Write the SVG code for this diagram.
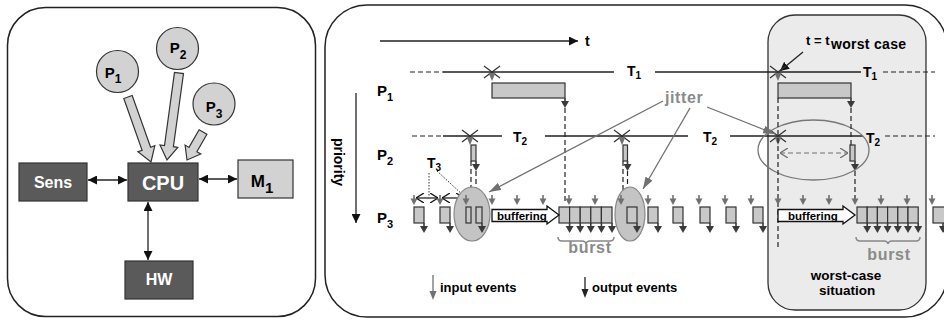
<svg xmlns="http://www.w3.org/2000/svg" xmlns:xlink="http://www.w3.org/1999/xlink" width="944" height="320" viewBox="0 0 944 320">
<style>
text{font-family:"Liberation Sans",Arial,sans-serif;font-weight:bold}
.panel{fill:#fff;stroke:#222;stroke-width:1.5}
.dark{fill:#5a5a5a;stroke:#333;stroke-width:1.2}
.wt{fill:#fff}
.light{fill:#d2d2d2;stroke:#333;stroke-width:1.2}
.bar{fill:#c8c8c8;stroke:#333;stroke-width:1.2}
.ln{stroke:#222;stroke-width:1.3;fill:none}
.dash{stroke:#222;stroke-width:1.2;stroke-dasharray:5,3;fill:none}
.gl{stroke:#707070;stroke-width:1.3;fill:none}
.ell{fill:#c4c4c4;stroke:#888;stroke-width:1.2}
.gt{fill:#8a8a8a}
</style>
<defs>
<marker id="bh" viewBox="0 0 10 10" refX="10" refY="5" markerWidth="9" markerHeight="9" markerUnits="userSpaceOnUse" orient="auto-start-reverse"><path d="M0,0L10,5L0,10z" fill="#111"/></marker>
<marker id="gh" viewBox="0 0 12 8" refX="12" refY="4" markerWidth="12" markerHeight="8" markerUnits="userSpaceOnUse" orient="auto"><path d="M0,0L12,4L0,8z" fill="#707070"/></marker>
<marker id="ob" viewBox="0 0 8 10" refX="8" refY="5" markerWidth="8" markerHeight="10" markerUnits="userSpaceOnUse" orient="auto-start-reverse"><path d="M0,0L8,5L0,10" fill="none" stroke="#111" stroke-width="1.3"/></marker>
<marker id="og" viewBox="0 0 8 10" refX="8" refY="5" markerWidth="8" markerHeight="10" markerUnits="userSpaceOnUse" orient="auto-start-reverse"><path d="M0,0L8,5L0,10" fill="none" stroke="#707070" stroke-width="1.3"/></marker>
<g id="ia"><path d="M0,0V5" stroke="#707070" stroke-width="1.6"/><path d="M-3.5,3.5H3.5L0,10Z" fill="#707070"/></g>
<g id="oa"><path d="M0,0V4" stroke="#3a3a3a" stroke-width="1.6"/><path d="M-4,3H4L0,10Z" fill="#3a3a3a"/></g>
<g id="xm"><path d="M-8,-6L8,6M-8,6L8,-6" stroke="#333" stroke-width="1.2"/><path d="M-3.5,1H3.5L0,9Z" fill="#707070"/></g>
</defs>

<!-- LEFT PANEL -->
<g id="left-panel">
<rect class="panel" x="7.5" y="7.5" width="308" height="309" rx="38"/>
</g>
<g id="P1"><circle class="light" cx="117.5" cy="71.5" r="21"/><text x="113" y="78" font-size="15" text-anchor="middle">P<tspan font-size="12" dy="5">1</tspan></text></g>
<g id="P2"><circle class="light" cx="177.5" cy="48.5" r="21"/><text x="178" y="53" font-size="15" text-anchor="middle">P<tspan font-size="12" dy="6">2</tspan></text></g>
<g id="P3"><circle class="light" cx="214" cy="104" r="21"/><text x="214" y="112" font-size="15" text-anchor="middle">P<tspan font-size="12" dy="6">3</tspan></text></g>
<g id="Sens"><rect class="dark" x="19" y="163" width="68" height="38"/><text class="wt" x="53" y="188" font-size="16" text-anchor="middle">Sens</text></g>
<g id="CPU"><rect class="dark" x="128" y="163" width="70" height="38"/><text class="wt" x="163" y="190" font-size="20" text-anchor="middle">CPU</text></g>
<g id="M1"><rect class="light" x="238" y="160" width="55" height="38"/><text x="262" y="187" font-size="17" text-anchor="middle">M<tspan font-size="15" dy="6">1</tspan></text></g>
<g id="HW"><rect class="dark" x="125" y="261" width="68" height="38"/><text class="wt" x="159" y="285" font-size="16" text-anchor="middle">HW</text></g>
<g id="left-connectors">
<polygon class="light" points="123.8,98.5 142.1,150.3 137.9,151.8 151,162 154.8,145.8 150.6,147.3 132.2,95.5"/>
<polygon class="light" points="174.5,72.4 164.5,145.5 160,144.9 167,160 177.8,147.4 173.4,146.7 183.5,73.6"/>
<polygon class="light" points="199.1,129.8 189,147.4 185.1,145.1 187,160 200.8,154 196.9,151.8 206.9,134.2"/>
<path class="ln" d="M88,180H127" marker-start="url(#bh)" marker-end="url(#bh)"/>
<path class="ln" d="M199,179H237" marker-start="url(#bh)" marker-end="url(#bh)"/>
<path class="ln" d="M148,202V260" marker-start="url(#bh)" marker-end="url(#bh)"/>
</g>

<!-- RIGHT PANEL -->
<g id="right-panel">
<rect class="panel" x="325" y="5" width="622" height="312" rx="42"/>
<rect x="768" y="15" width="158" height="295" rx="27" fill="#ebebeb" stroke="#333" stroke-width="1.3"/>
<text x="846" y="280" font-size="13.5" text-anchor="middle">worst-case</text>
<text x="847" y="295" font-size="13.5" text-anchor="middle">situation</text>
</g>

<g id="axes">
<path class="ln" d="M380,41H578" marker-end="url(#bh)"/>
<text x="585" y="46" font-size="14">t</text>
<path class="ln" d="M356,93V223" marker-end="url(#bh)"/>
<text transform="translate(334,162) rotate(90)" font-size="14" text-anchor="middle">priority</text>
<text x="377" y="96" font-size="15">P<tspan font-size="11" dy="5">1</tspan></text>
<text x="377" y="160" font-size="15">P<tspan font-size="11" dy="5">2</tspan></text>
<text x="377" y="223" font-size="15">P<tspan font-size="11" dy="5">3</tspan></text>
<text x="806" y="45" font-size="13">t = t<tspan font-size="14" dx="1.5" dy="4" letter-spacing="0.3">worst case</tspan></text>
<path class="ln" d="M803,52L780,71" marker-end="url(#bh)"/>
</g>

<g id="periods">
<path class="dash" d="M410,72H443M412,136H443"/>
<path class="ln" d="M443,72H614M655,72H861M443,136H502M545,136H688M730,136H863"/>
<path class="dash" d="M883,72H935M885,136H935"/>
<text x="627" y="76" font-size="14">T<tspan font-size="10" dy="3">1</tspan></text>
<text x="863" y="77" font-size="14">T<tspan font-size="10" dy="3">1</tspan></text>
<text x="513" y="142" font-size="14">T<tspan font-size="10" dy="3">2</tspan></text>
<text x="703" y="142" font-size="14">T<tspan font-size="10" dy="3">2</tspan></text>
<text x="866" y="143" font-size="14">T<tspan font-size="10" dy="3">2</tspan></text>
<text x="427" y="168" font-size="14">T<tspan font-size="10" dy="3">3</tspan></text>
<path d="M429,173V197M437,171L465,197" stroke="#333" stroke-width="1" stroke-dasharray="1.5,1.5" fill="none"/>
<path class="ln" d="M416,198H438" marker-start="url(#ob)" marker-end="url(#ob)" stroke-width="1.2"/>
<path class="ln" d="M442,198H464" marker-start="url(#ob)" marker-end="url(#ob)" stroke-width="1.2"/>
</g>

<g id="P1-jobs">
<use href="#xm" x="492" y="72"/>
<use href="#xm" x="778" y="72"/>
<rect class="bar" x="492" y="83" width="73" height="15"/>
<rect class="bar" x="778" y="83" width="73" height="15"/>
<use href="#oa" x="565" y="98"/>
<use href="#oa" x="851" y="98"/>
</g>

<g id="P2-jobs">
<use href="#xm" x="470" y="136"/>
<use href="#xm" x="622" y="136"/>
<use href="#xm" x="778" y="136"/>
<rect class="bar" x="471" y="145" width="5" height="16"/>
<rect class="bar" x="623" y="145" width="4.5" height="16"/>
<rect class="bar" x="850" y="145" width="5" height="16"/>
<use href="#oa" x="476" y="161"/>
<use href="#oa" x="627.5" y="161"/>
<use href="#oa" x="855" y="161"/>
<ellipse cx="813.5" cy="150" rx="55.5" ry="30" fill="none" stroke="#777" stroke-width="1.3"/>
<path d="M780,153H848" stroke="#707070" stroke-width="1.2" stroke-dasharray="5,3" fill="none" marker-start="url(#og)" marker-end="url(#og)"/>
</g>

<g id="dashed-links">
<path class="dash" d="M565,108V203M851,108V145M778,98V248M471,161V207M476,171V207M623,161V207M627.5,171V207M855,171V200"/>
</g>

<g id="P3-jobs">
<ellipse class="ell" cx="472" cy="214" rx="18" ry="27"/>
<ellipse class="ell" cx="630" cy="214" rx="15" ry="27"/>
<use href="#ia" x="414" y="195"/><use href="#ia" x="440" y="195"/><use href="#ia" x="466" y="195"/>
<use href="#ia" x="492" y="195"/><use href="#ia" x="517" y="195"/><use href="#ia" x="543" y="195"/>
<use href="#ia" x="569" y="195"/><use href="#ia" x="595" y="195"/><use href="#ia" x="621" y="195"/>
<use href="#ia" x="648" y="195"/><use href="#ia" x="673" y="195"/><use href="#ia" x="699" y="195"/>
<use href="#ia" x="725" y="195"/><use href="#ia" x="751" y="195"/><use href="#ia" x="778" y="195"/>
<use href="#ia" x="803" y="195"/><use href="#ia" x="829" y="195"/><use href="#ia" x="855" y="195"/>
<use href="#ia" x="881" y="195"/><use href="#ia" x="907" y="195"/><use href="#ia" x="932" y="195"/>
<rect class="bar" x="414" y="207" width="10" height="16"/>
<rect class="bar" x="440" y="207" width="10" height="16"/>
<rect class="bar" x="466" y="207" width="5" height="16"/>
<rect class="bar" x="476" y="207" width="6" height="16"/>
<rect class="bar" x="559" y="207" width="10.6" height="16"/>
<rect class="bar" x="569.6" y="207" width="10.6" height="16"/>
<rect class="bar" x="580.2" y="207" width="10.6" height="16"/>
<rect class="bar" x="590.8" y="207" width="10.6" height="16"/>
<rect class="bar" x="601.4" y="207" width="10.6" height="16"/>
<rect class="bar" x="627" y="207" width="10" height="16"/>
<rect class="bar" x="648" y="207" width="10" height="16"/>
<rect class="bar" x="673" y="207" width="10" height="16"/>
<rect class="bar" x="700" y="207" width="10" height="16"/>
<rect class="bar" x="726" y="207" width="10" height="16"/>
<rect class="bar" x="753" y="207" width="10" height="16"/>
<rect class="bar" x="857" y="207" width="10.2" height="16"/>
<rect class="bar" x="867.2" y="207" width="10.2" height="16"/>
<rect class="bar" x="877.4" y="207" width="10.2" height="16"/>
<rect class="bar" x="887.6" y="207" width="10.2" height="16"/>
<rect class="bar" x="897.8" y="207" width="10.2" height="16"/>
<rect class="bar" x="908" y="207" width="10.2" height="16"/>
<rect class="bar" x="933" y="207" width="12" height="16"/>
<use href="#oa" x="424" y="223"/><use href="#oa" x="450" y="223"/><use href="#oa" x="482" y="223"/>
<use href="#oa" x="569.6" y="223"/><use href="#oa" x="580.2" y="223"/><use href="#oa" x="590.8" y="223"/>
<use href="#oa" x="601.4" y="223"/><use href="#oa" x="612" y="223"/><use href="#oa" x="637" y="223"/>
<use href="#oa" x="658" y="223"/><use href="#oa" x="683" y="223"/><use href="#oa" x="710" y="223"/>
<use href="#oa" x="736" y="223"/><use href="#oa" x="763" y="223"/>
<use href="#oa" x="867.2" y="223"/><use href="#oa" x="877.4" y="223"/><use href="#oa" x="887.6" y="223"/>
<use href="#oa" x="897.8" y="223"/><use href="#oa" x="908" y="223"/><use href="#oa" x="918.2" y="223"/>
<use href="#oa" x="943" y="223"/>
<polygon points="492,209.5 547,209.5 547,206 559,215 547,224 547,221.5 492,221.5" fill="#fff" stroke="#111" stroke-width="1.3"/>
<text x="497" y="220" font-size="11.5">buffering</text>
<polygon points="778,209.5 843,209.5 843,206 855,215 843,224 843,221.5 778,221.5" fill="#fff" stroke="#111" stroke-width="1.3"/>
<text x="788" y="220" font-size="11.5">buffering</text>
<path d="M558,237Q558,241 562,241H582Q585.5,241 586,244Q586.5,241 590,241H610Q614,241 614,237" stroke="#888" stroke-width="1.5" fill="none"/>
<path d="M856,237Q856,241 860,241H884Q887.5,241 888,244Q888.5,241 892,241H916Q920,241 920,237" stroke="#888" stroke-width="1.5" fill="none"/>
<text class="gt" x="590" y="253" font-size="16" letter-spacing="0.7" text-anchor="middle">burst</text>
<text class="gt" x="889" y="260" font-size="16" letter-spacing="0.7" text-anchor="middle">burst</text>
</g>

<g id="jitter">
<text class="gt" x="665" y="103" font-size="16" letter-spacing="0.6">jitter</text>
<path class="gl" d="M663,101L489,192" marker-end="url(#gh)"/>
<path class="gl" d="M690,108L643,189" marker-end="url(#gh)"/>
<path class="gl" d="M707,107L775,134" marker-end="url(#gh)"/>
</g>

<g id="legend">
<path d="M433,275V293" stroke="#707070" stroke-width="1.3"/><path d="M429.5,291H436.5L433,300Z" fill="#707070"/>
<text x="440" y="292" font-size="13">input events</text>
<path d="M585,277V291" stroke="#222" stroke-width="1.3"/><path d="M581.5,289H588.5L585,298Z" fill="#222"/>
<text x="592" y="292" font-size="13">output events</text>
</g>
</svg>
